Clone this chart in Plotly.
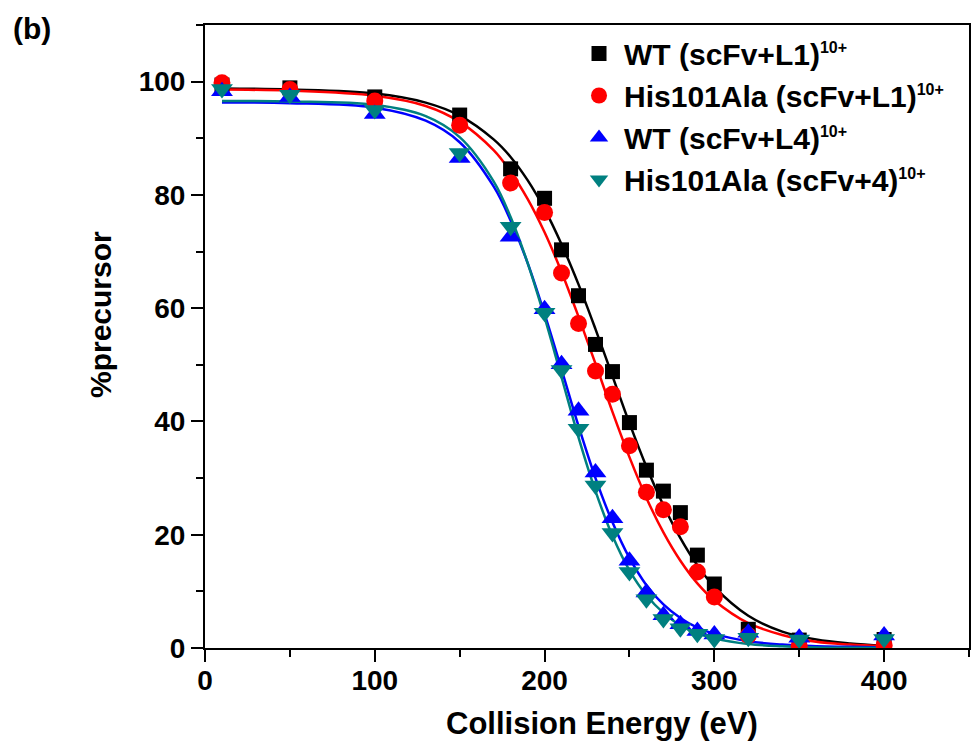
import plotly.graph_objects as go

# Measured data points
energy = [10, 50, 100, 150, 180, 200, 210, 220, 230, 240, 250, 260, 270, 280, 290, 300, 320, 350, 400]
wt_l1 = [99.4, 98.9, 97.3, 94.1, 84.6, 79.4, 70.3, 62.2, 53.6, 48.8, 39.8, 31.4, 27.7, 23.9, 16.4, 11.3, 3.3, 1.4, 1.5]
his_l1 = [99.8, 98.6, 96.6, 92.3, 82.1, 76.9, 66.2, 57.3, 48.9, 44.8, 35.7, 27.5, 24.4, 21.4, 13.4, 9.0, 2.2, 0.4, 0.5]
wt_l4 = [98.3, 97.3, 94.3, 86.5, 72.6, 59.8, 50.1, 41.9, 31.0, 22.9, 15.4, 9.8, 5.8, 4.2, 3.0, 2.4, 2.7, 1.8, 2.2]
his_l4 = [98.7, 97.7, 95.0, 87.4, 74.4, 59.2, 49.1, 38.7, 28.7, 20.3, 13.4, 8.6, 5.1, 3.5, 2.5, 1.6, 1.8, 1.5, 1.6]

# Fitted curves
fit_x = [10, 50, 100, 130, 150, 170, 180, 190, 200, 210, 220, 230, 240, 250, 260, 270, 280, 290, 300, 320, 340, 360, 380, 400]
fit_wt_l1 = [98.8, 98.6, 97.9, 96.3, 94.0, 89.8, 86.7, 82.6, 77.5, 71.3, 64.2, 56.3, 48.0, 39.7, 32.0, 25.2, 19.4, 14.6, 10.8, 5.7, 2.9, 1.5, 0.8, 0.4]
fit_his_l1 = [98.6, 98.4, 97.5, 95.7, 92.9, 87.9, 84.1, 79.3, 73.4, 66.4, 58.5, 50.2, 41.7, 33.7, 26.5, 20.4, 15.4, 11.4, 8.4, 4.4, 2.3, 1.1, 0.6, 0.3]
fit_wt_l4 = [96.3, 96.2, 95.4, 93.1, 89.3, 81.5, 75.5, 68.0, 59.0, 49.2, 39.2, 30.0, 22.2, 15.9, 11.1, 7.7, 5.3, 3.6, 2.5, 1.2, 0.6, 0.3, 0.2, 0.1]
fit_his_l4 = [96.6, 96.5, 95.9, 93.9, 90.2, 82.4, 76.1, 68.0, 58.4, 47.8, 37.2, 27.7, 19.8, 13.7, 9.3, 6.2, 4.0, 2.6, 1.7, 0.7, 0.3, 0.1, 0.05, 0.02]

sup = "<sup><span style='font-size:16px'>10+</span></sup>"
names = ["WT (scFv+L1)" + sup, "His101Ala (scFv+L1)" + sup, "WT (scFv+L4)" + sup, "His101Ala (scFv+4)" + sup]
colors = ["#000000", "#FF0000", "#0000FF", "#008080"]
symbols = ["square", "circle", "triangle-up", "triangle-down"]
msizes = [15, 17, 19, 19]
series = [wt_l1, his_l1, wt_l4, his_l4]
fits = [fit_wt_l1, fit_his_l1, fit_wt_l4, fit_his_l4]

FONT = "Liberation Sans, Arial, sans-serif"

fig = go.Figure()
for f, c in zip(fits, colors):
    fig.add_trace(go.Scatter(x=fit_x, y=f, mode="lines", line=dict(color=c, width=2.5, shape="spline"),
                             showlegend=False, hoverinfo="skip"))
for s, n, c, sym, ms in zip(series, names, colors, symbols, msizes):
    fig.add_trace(go.Scatter(x=energy, y=s, mode="markers", name=n,
                             marker=dict(color=c, symbol=sym, size=ms, line=dict(width=0))))

axis_common = dict(showline=True, linecolor="black", linewidth=2, mirror=True, showgrid=False, zeroline=False,
                   ticks="outside", ticklen=12, tickwidth=2, tickcolor="black",
                   tickfont=dict(family=FONT, size=28, color="black", weight="bold"))

fig.update_xaxes(range=[0, 450], dtick=100, tick0=0, ticklabelstandoff=-6,
                 minor=dict(dtick=50, ticks="outside", ticklen=7, tickwidth=2, tickcolor="black", showgrid=False),
                 **axis_common)
fig.update_yaxes(range=[0, 110], dtick=20, tick0=0,
                 minor=dict(dtick=10, ticks="outside", ticklen=7, tickwidth=2, tickcolor="black", showgrid=False),
                 **axis_common)

fig.update_layout(
    width=974, height=742,
    margin=dict(l=205, r=3, t=25, b=94),
    paper_bgcolor="white", plot_bgcolor="white",
    font=dict(family=FONT, color="black"),
    showlegend=True,
    legend=dict(x=0.483, y=0.996, xanchor="left", yanchor="top", bgcolor="rgba(0,0,0,0)",
                font=dict(family=FONT, size=30, color="black", weight="bold"),
                itemwidth=40, tracegroupgap=0),
    annotations=[
        dict(text="%precursor", xref="paper", yref="paper", x=-0.137, y=0.535, textangle=-90,
             showarrow=False, xanchor="center", yanchor="middle",
             font=dict(family=FONT, size=30, color="black", weight="bold")),
        dict(text="Collision Energy (eV)", xref="paper", yref="paper", x=0.5196, y=-0.121,
             showarrow=False, xanchor="center", yanchor="middle",
             font=dict(family=FONT, size=31, color="black", weight="bold")),
        dict(text="(b)", xref="paper", yref="paper", x=-0.226, y=0.995,
             showarrow=False, xanchor="center", yanchor="middle",
             font=dict(family=FONT, size=30, color="black", weight="bold")),
    ],
)

fig.write_html("out.html")
